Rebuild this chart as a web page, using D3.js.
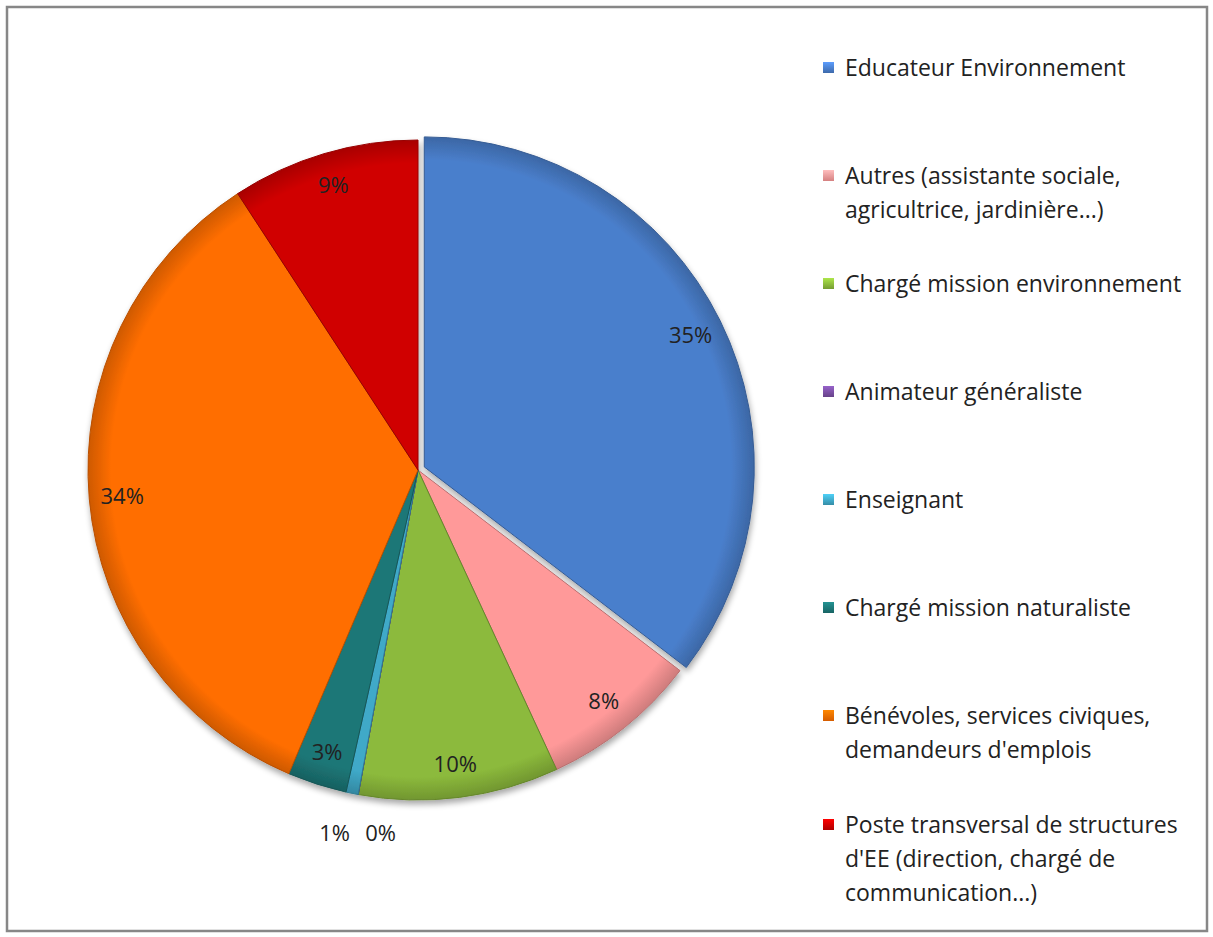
<!DOCTYPE html>
<html>
<head>
<meta charset="utf-8">
<script src="https://cdn.jsdelivr.net/npm/d3@7"></script>
<style>
  body { margin: 0; background: #fff; }
  svg { display: block; }
  text { font-family: "Open Sans", Lato, sans-serif; fill: #222; }
</style>
</head>
<body>
<svg id="chart" width="1213" height="937"></svg>
<script>
// categories, clockwise from 12 o'clock ("|" = line break in legend)
const categories = [
  "Educateur Environnement",
  "Autres (assistante sociale,|agricultrice, jardinière...)",
  "Chargé mission environnement",
  "Animateur généraliste",
  "Enseignant",
  "Chargé mission naturaliste",
  "Bénévoles, services civiques,|demandeurs d'emplois",
  "Poste transversal de structures|d'EE (direction, chargé de|communication...)"
];
// share in percent
const values = [35.4, 7.7, 9.8, 0, 0.6, 2.9, 34.4, 9.2];
const colors = ["#4a7fcc", "#ff9999", "#8cba3c", "#7a4fa3", "#3fa9c8", "#1d7777", "#ff6e00", "#d00000"];
const exploded = [0];

const width = 1213, height = 937;
const cx = 418, cy = 470, R = 330;

const svg = d3.select("#chart");

// frame
svg.append("rect")
  .attr("x", 7).attr("y", 7)
  .attr("width", width - 13).attr("height", height - 13)
  .attr("fill", "#fff")
  .attr("stroke", "#878787")
  .attr("stroke-width", 2.5);

const defs = svg.append("defs");

colors.forEach((c, i) => {
  const g = defs.append("radialGradient")
    .attr("id", "grad" + i)
    .attr("gradientUnits", "userSpaceOnUse")
    .attr("cx", 0).attr("cy", 0).attr("r", R);
  g.append("stop").attr("offset", "0%").attr("stop-color", c);
  g.append("stop").attr("offset", "93%").attr("stop-color", c);
  g.append("stop").attr("offset", "100%").attr("stop-color", d3.color(c).darker(0.6));

  const lg = defs.append("linearGradient")
    .attr("id", "lg" + i)
    .attr("x1", 0).attr("y1", 0).attr("x2", 0).attr("y2", 1);
  lg.append("stop").attr("offset", "0%").attr("stop-color", d3.color(c).brighter(0.6));
  lg.append("stop").attr("offset", "100%").attr("stop-color", d3.color(c).darker(0.5));
});

const shadow = defs.append("filter").attr("id", "shadow")
  .attr("x", "-10%").attr("y", "-10%").attr("width", "120%").attr("height", "120%");
shadow.append("feGaussianBlur").attr("in", "SourceAlpha").attr("stdDeviation", 3);
shadow.append("feOffset").attr("dx", 1).attr("dy", 4).attr("result", "b");
shadow.append("feComponentTransfer").append("feFuncA").attr("type", "linear").attr("slope", 0.35);
const merge = shadow.append("feMerge");
merge.append("feMergeNode");
merge.append("feMergeNode").attr("in", "SourceGraphic");

const pie = d3.pie().sort(null).value(d => d)(values);
const arc = d3.arc().innerRadius(0).outerRadius(R);
const labelArc = d3.arc().innerRadius(R * 0.9).outerRadius(R * 0.9);
const outerArc = d3.arc().innerRadius(R + 40).outerRadius(R + 40);

const pieG = svg.append("g")
  .attr("transform", `translate(${cx},${cy})`)
  .attr("filter", "url(#shadow)");

function offsetOf(d, i) {
  if (!exploded.includes(i)) return [0, 0];
  const a = (d.startAngle + d.endAngle) / 2;
  return [Math.sin(a) * 7, -Math.cos(a) * 7];
}

pieG.selectAll("path")
  .data(pie)
  .join("path")
  .attr("d", arc)
  .attr("transform", (d, i) => `translate(${offsetOf(d, i)})`)
  .attr("fill", (d, i) => `url(#grad${i})`)
  .attr("stroke", (d, i) => d3.color(colors[i]).darker(0.9))
  .attr("stroke-width", 1);

// labels
const labelG = svg.append("g").attr("transform", `translate(${cx},${cy})`);
const inside = pie.filter(d => d.value >= 2);
const outside = pie.filter(d => d.value < 2);

labelG.selectAll("text.in")
  .data(inside)
  .join("text")
  .attr("class", "in")
  .attr("transform", d => {
    const i = pie.indexOf(d);
    const [ox, oy] = offsetOf(d, i);
    const [x, y] = labelArc.centroid(d);
    return `translate(${x + ox},${y + oy})`;
  })
  .attr("text-anchor", "middle")
  .attr("dy", "0.35em")
  .attr("font-size", 22)
  .text(d => Math.round(d.value) + "%");

// small slices: outside, spread so they don't overlap
const outPos = outside.map(d => ({ d, p: outerArc.centroid(d) }))
  .sort((a, b) => a.p[0] - b.p[0]);
const meanX = d3.mean(outPos, o => o.p[0]) + 10;
const meanY = d3.mean(outPos, o => o.p[1]);
const gap = 46;
outPos.forEach((o, k) => {
  o.x = meanX + (k - (outPos.length - 1) / 2) * gap;
  o.y = meanY;
});
labelG.selectAll("text.out")
  .data(outPos)
  .join("text")
  .attr("class", "out")
  .attr("x", o => o.x)
  .attr("y", o => o.y)
  .attr("text-anchor", "middle")
  .attr("dy", "0.35em")
  .attr("font-size", 22)
  .text(o => Math.round(o.d.value) + "%");

// legend
const legendRows = [68, 176, 284, 392, 500, 608, 716, 825];
const legend = svg.append("g");
categories.forEach((name, i) => {
  const row = legend.append("g").attr("transform", `translate(823,${legendRows[i]})`);
  row.append("rect")
    .attr("x", 0).attr("y", -6)
    .attr("width", 11).attr("height", 11)
    .attr("fill", `url(#lg${i})`);
  row.append("text")
    .attr("x", 22)
    .attr("font-size", 23)
    .selectAll("tspan")
    .data(name.split("|"))
    .join("tspan")
    .attr("x", 22)
    .attr("y", (t, k) => k * 34)
    .attr("dy", "0.35em")
    .text(t => t);
});
</script>
</body>
</html>
